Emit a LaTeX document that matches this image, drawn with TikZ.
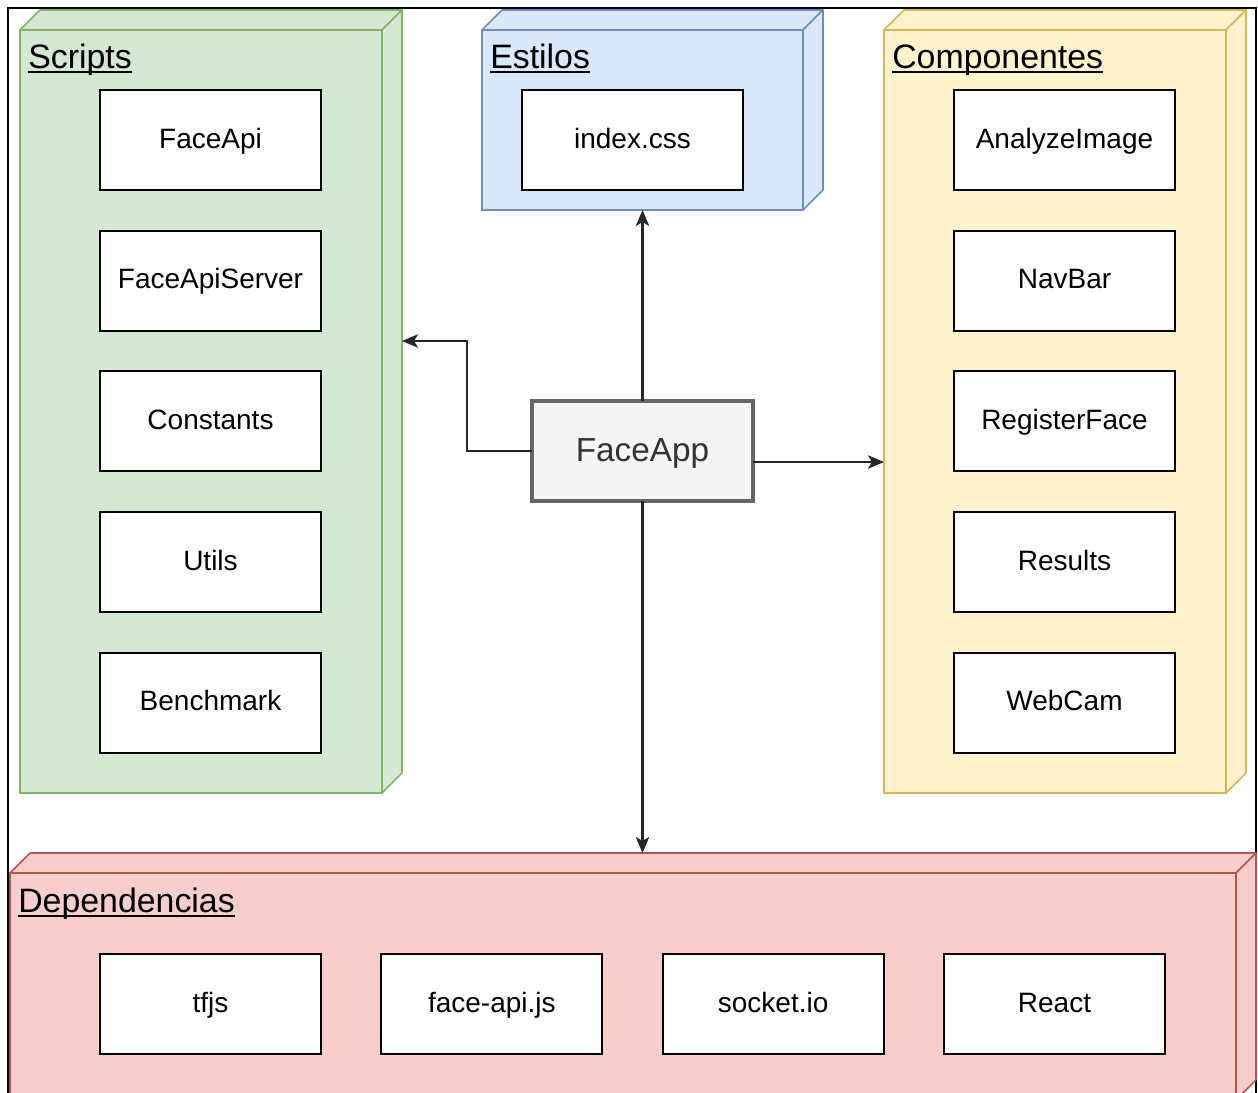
\documentclass[tikz,border=0pt]{standalone}
\usepackage{fontspec}
\setmainfont{Liberation Sans}
\usetikzlibrary{positioning,calc,arrows.meta}
\definecolor{scriptfill}{HTML}{D5E8D4}
\definecolor{scriptline}{HTML}{82B366}
\definecolor{stylefill}{HTML}{DAE8FC}
\definecolor{styleline}{HTML}{6C8EBF}
\definecolor{compfill}{HTML}{FFF2CC}
\definecolor{compline}{HTML}{D6B656}
\definecolor{depfill}{HTML}{F8CECC}
\definecolor{depline}{HTML}{B85450}
\definecolor{appfill}{HTML}{F5F5F5}
\definecolor{appline}{HTML}{666666}
\tikzset{
  >={Stealth[length=12pt,width=10pt,inset=3pt]},
  cube/.style 2 args={rectangle, fill=#1, draw=#2, line width=1.2pt, inner sep=0pt, outer sep=0pt},
  title/.style={anchor=base west, inner sep=0pt, font=\fontsize{25.4}{30}\selectfont},
  underline/.style={line width=1pt},
  item/.style={rectangle, draw=black, fill=white, line width=1.6pt, inner sep=0pt, outer sep=0pt,
               minimum width=165.75pt, minimum height=75pt, text height=12pt, text depth=0pt,
               font=\fontsize{21}{25}\selectfont},
  app/.style={rectangle, draw=appline, fill=appfill, line width=2.3pt, inner sep=0pt, outer sep=0pt,
              minimum width=165.75pt, minimum height=75pt, text=black!80,
              text height=16pt, text depth=0pt, font=\fontsize{25}{30}\selectfont},
  link/.style={draw=black!85, line width=1.6pt, ->}
}
\begin{document}
\begin{tikzpicture}[x=0.75pt,y=-0.75pt]
    \useasboundingbox (0,0) rectangle (1258,1093);
    % Outer frame
    \draw [line width=1.6pt] (8,1093) -- (8,8) -- (1256,8) -- (1256,1093);

    % Front faces of the packages
    \node (scripts) [cube={scriptfill}{scriptline}, minimum width=271.5pt, minimum height=572.25pt] at (201,411.5) {};
    \node (styles) [cube={stylefill}{styleline}, minimum width=240.75pt, minimum height=135pt] at (642.5,120) {};
    \node (comps) [cube={compfill}{compline}, minimum width=256.5pt, minimum height=572.25pt] at (1055,411.5) {};
    \node (deps) [cube={depfill}{depline}, minimum width=919.5pt, minimum height=170.25pt] at (623,986.5) {};

    % Top and side faces
    \foreach \c/\f/\d in {scripts/scriptfill/scriptline, styles/stylefill/styleline,
                          comps/compfill/compline, deps/depfill/depline} {
      \draw [fill=\f, draw=\d, line width=1.2pt, line join=round]
        (\c.north west) -- ++(20,-20) -- ([shift={(20,-20)}]\c.north east) -- (\c.north east) -- cycle;
      \draw [fill=\f, draw=\d, line width=1.2pt, line join=round]
        (\c.north east) -- ++(20,-20) -- ([shift={(20,-20)}]\c.south east) -- (\c.south east) -- cycle;
    }

    % Titles
    \node (scripts-title) [title] at (28,68) {Scripts};
    \node (styles-title) [title] at (490,68) {Estilos};
    \node (comps-title) [title] at (892,68) {Componentes};
    \node (deps-title) [title] at (18,912) {Dependencias};
    \foreach \t in {scripts-title, styles-title, comps-title, deps-title}
      \draw [underline] ([yshift=-3pt]\t.base west) -- ([yshift=-3pt]\t.base east);

    % Scripts
    \node (faceapi) [item] at (210.5,140) {FaceApi};
    \node (faceapiserver) [item, below=30.5pt of faceapi] {FaceApiServer};
    \node (constants) [item, below=30.5pt of faceapiserver] {Constants};
    \node (utils) [item, below=30.5pt of constants] {Utils};
    \node (benchmark) [item, below=30.5pt of utils] {Benchmark};

    % Estilos
    \node (indexcss) [item] at (632.5,140) {index.css};

    % Componentes
    \node (analyze) [item] at (1064.5,140) {AnalyzeImage};
    \node (navbar) [item, below=30.5pt of analyze] {NavBar};
    \node (register) [item, below=30.5pt of navbar] {RegisterFace};
    \node (results) [item, below=30.5pt of register] {Results};
    \node (webcam) [item, below=30.5pt of results] {WebCam};

    % Dependencias
    \node (tfjs) [item] at (210.5,1004) {tfjs};
    \node (faceapijs) [item, right=45.25pt of tfjs] {face-api.js};
    \node (socketio) [item, right=45.25pt of faceapijs] {socket.io};
    \node (react) [item, right=45.25pt of socketio] {React};

    % Main app
    \node (app) [app] at (642.5,451) {FaceApp};

    % Connectors
    \coordinate (scripts-in) at (402,341);
    \coordinate (comps-in) at (884,462);
    \coordinate (deps-in) at ($(deps.north)+(20,-20)$);
    \draw [link] (app.north) -- (styles.south);
    \draw [link] (app.west) -- ++(-65,0) |- (scripts-in);
    \draw [link] (app.east |- comps-in) -- (comps-in);
    \draw [link] (app.south) -- (app.south |- deps-in);
\end{tikzpicture}
\end{document}
